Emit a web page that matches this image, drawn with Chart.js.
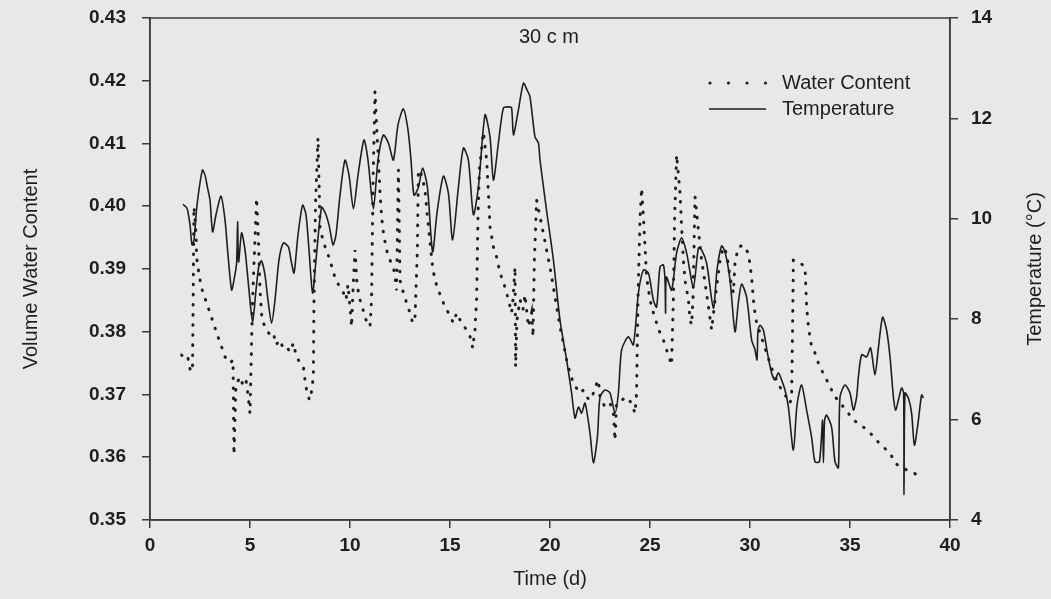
<!DOCTYPE html>
<html lang="en">
<head>
<meta charset="UTF-8">
<title>30 cm - Volume Water Content and Temperature</title>
<script src="https://cdn.jsdelivr.net/npm/chart.js@4"></script>
<style>
  html, body { margin: 0; padding: 0; background: #e8e8e6; }
  #wrap { width: 1051px; height: 599px; }
</style>
</head>
<body>
<div id="wrap"><canvas id="chart" width="1051" height="599"></canvas></div>
<script>
// [time (d), volume water content]
const waterContent = [
  [1.58,0.3763],[1.75,0.3755],[1.90,0.3758],[2.03,0.3736],[2.13,0.3744],[2.20,0.3999],[2.30,0.3957],[2.33,0.3919],
  [2.47,0.3887],[2.63,0.3864],[2.83,0.3846],[3.0,0.3830],[3.17,0.3814],[3.33,0.3798],[3.58,0.3776],[3.75,0.3760],
  [4.0,0.3750],[4.15,0.3755],[4.2,0.3604],[4.3,0.3715],[4.5,0.3728],[4.65,0.3715],[4.8,0.3723],[4.9,0.3699],
  [5.0,0.3670],[5.13,0.3851],[5.33,0.4013],[5.42,0.3946],[5.5,0.3866],[5.6,0.3819],[5.83,0.3803],[6.0,0.3795],
  [6.17,0.3798],[6.3,0.3779],[6.5,0.3787],[6.65,0.3774],[6.83,0.3776],[7.0,0.3768],[7.17,0.3782],[7.3,0.3763],
  [7.5,0.3750],[7.67,0.3744],[7.75,0.3723],[7.83,0.3707],[7.97,0.3691],[8.05,0.3699],[8.17,0.3728],[8.2,0.3851],
  [8.28,0.4005],[8.4,0.4109],[8.5,0.3967],[8.67,0.3942],[8.83,0.3930],[9.0,0.3914],[9.17,0.3894],[9.33,0.3880],
  [9.5,0.3871],[9.67,0.3862],[9.8,0.3851],[9.9,0.3875],[10.08,0.3808],[10.15,0.3866],[10.25,0.3930],[10.35,0.3875],
  [10.5,0.3851],[10.65,0.3835],[10.8,0.3819],[11.0,0.3808],[11.08,0.3851],[11.15,0.4031],[11.25,0.4183],[11.33,0.4127],
  [11.42,0.4074],[11.5,0.4021],[11.58,0.3983],[11.67,0.3957],[11.83,0.3930],[12.0,0.3914],[12.17,0.3903],[12.25,0.3887],
  [12.33,0.3866],[12.42,0.4058],[12.5,0.3882],[12.67,0.3862],[12.83,0.3846],[13.0,0.3830],[13.13,0.3814],[13.25,0.3822],
  [13.37,0.3930],[13.42,0.4058],[13.58,0.4050],[13.75,0.4026],[13.87,0.3983],[14.0,0.3943],[14.13,0.3903],[14.25,0.3882],
  [14.42,0.3866],[14.67,0.3846],[14.92,0.3830],[15.17,0.3814],[15.33,0.3830],[15.58,0.3814],[15.83,0.3803],[16.08,0.3787],
  [16.13,0.3774],[16.25,0.3803],[16.33,0.3851],[16.4,0.3983],[16.47,0.4058],[16.67,0.4118],[16.83,0.4074],[16.92,0.4021],
  [17.0,0.3967],[17.17,0.3935],[17.33,0.3919],[17.5,0.3894],[17.75,0.3871],[17.92,0.3851],[18.08,0.3830],[18.15,0.3851],
  [18.25,0.3903],[18.28,0.3744],[18.35,0.3819],[18.5,0.3851],[18.65,0.3835],[18.75,0.3859],[18.92,0.3808],[19.08,0.3830],
  [19.15,0.3792],[19.22,0.3914],[19.33,0.4010],[19.5,0.3983],[19.67,0.3957],[19.83,0.3930],[20.0,0.3903],[20.17,0.3871],
  [20.33,0.3840],[20.5,0.3808],[20.67,0.3782],[20.83,0.3755],[21.0,0.3734],[21.17,0.3718],[21.33,0.3710],[21.5,0.3702],
  [21.67,0.3707],[21.83,0.3696],[22.0,0.3691],[22.17,0.3702],[22.3,0.3715],[22.42,0.3723],[22.5,0.3696],[22.75,0.3680],
  [23.0,0.3686],[23.17,0.3670],[23.25,0.3627],[23.33,0.3686],[23.58,0.3691],[23.83,0.3696],[24.08,0.3686],[24.25,0.3670],
  [24.33,0.3702],[24.4,0.3851],[24.5,0.3978],[24.58,0.4029],[24.67,0.3983],[24.75,0.3935],[24.83,0.3887],[25.0,0.3851],
  [25.17,0.3830],[25.33,0.3814],[25.5,0.3798],[25.67,0.3787],[25.83,0.3771],[26.0,0.3755],[26.08,0.3747],[26.17,0.3851],
  [26.23,0.3978],[26.33,0.4082],[26.5,0.4021],[26.58,0.3967],[26.67,0.3914],[26.75,0.3882],[26.92,0.3851],[27.0,0.3819],
  [27.08,0.3811],[27.15,0.3851],[27.2,0.3930],[27.25,0.4015],[27.42,0.3962],[27.58,0.3914],[27.75,0.3878],[27.92,0.3840],
  [28.08,0.3803],[28.33,0.3871],[28.5,0.3914],[28.67,0.3935],[28.83,0.3925],[29.0,0.3887],[29.17,0.3862],[29.25,0.3910],
  [29.42,0.3935],[29.67,0.3938],[29.92,0.3925],[30.08,0.3887],[30.2,0.3840],[30.33,0.3814],[30.5,0.3798],[30.67,0.3782],
  [30.83,0.3766],[31.0,0.3750],[31.17,0.3734],[31.33,0.3723],[31.5,0.3712],[31.67,0.3702],[31.83,0.3696],[32.0,0.3686],
  [32.08,0.3696],[32.13,0.3803],[32.17,0.3914],[32.25,0.3914],[32.5,0.3910],[32.75,0.3903],[32.83,0.3840],[32.92,0.3808],
  [33.08,0.3776],[33.25,0.3766],[33.42,0.3750],[33.58,0.3739],[33.75,0.3728],[33.92,0.3718],[34.08,0.3707],[34.25,0.3696],
  [34.42,0.3691],[34.67,0.3680],[34.92,0.3670],[35.17,0.3659],[35.33,0.3656],[35.67,0.3648],[36.0,0.3639],[36.33,0.3627],
  [36.67,0.3616],[37.0,0.3607],[37.25,0.3591],[37.5,0.3585],[37.83,0.3580],[38.17,0.3575],[38.58,0.3569]
];

// [time (d), temperature (°C)]
const temperature = [
  [1.65,10.29],[1.85,10.21],[2.0,9.88],[2.1,9.48],[2.2,9.58],[2.35,10.27],[2.62,10.97],[2.75,10.87],[2.87,10.63],
  [3.0,10.37],[3.13,9.74],[3.3,10.08],[3.55,10.45],[3.75,9.98],[3.9,9.28],[4.08,8.58],[4.2,8.78],[4.33,9.12],
  [4.38,9.94],[4.43,9.14],[4.58,9.72],[4.75,9.38],[4.95,8.58],[5.13,7.94],[5.3,8.58],[5.45,9.08],[5.58,9.16],
  [5.75,8.88],[5.9,8.38],[6.08,7.92],[6.25,8.38],[6.45,9.18],[6.67,9.52],[6.92,9.44],[7.05,9.18],[7.2,8.92],
  [7.4,9.68],[7.63,10.27],[7.8,10.08],[7.95,9.38],[8.13,8.52],[8.3,9.18],[8.58,10.23],[8.8,10.08],[8.97,9.84],
  [9.15,9.48],[9.3,9.68],[9.5,10.47],[9.75,11.17],[9.95,10.87],[10.17,10.2],[10.4,10.87],[10.7,11.57],[10.9,11.17],
  [11.17,10.2],[11.4,11.17],[11.67,11.67],[11.92,11.51],[12.17,11.17],[12.4,11.87],[12.67,12.19],[12.9,11.77],
  [13.05,11.17],[13.2,10.47],[13.42,10.63],[13.63,11.01],[13.87,10.63],[14.13,9.34],[14.35,10.12],[14.67,10.85],
  [14.92,10.51],[15.13,9.58],[15.42,10.63],[15.67,11.41],[15.92,11.17],[16.17,10.08],[16.42,10.63],[16.75,12.07],
  [17.0,11.63],[17.17,10.77],[17.42,11.51],[17.67,12.21],[17.92,12.23],[18.08,12.21],[18.17,11.67],[18.42,12.17],
  [18.67,12.7],[18.85,12.57],[19.0,12.43],[19.25,11.63],[19.42,11.51],[19.5,11.17],[19.83,10.16],[20.17,9.18],
  [20.5,7.98],[20.83,7.19],[21.08,6.53],[21.25,6.03],[21.42,6.25],[21.58,6.13],[21.75,6.33],[22.0,5.73],
  [22.17,5.14],[22.37,5.65],[22.5,6.45],[22.75,6.59],[23.0,6.53],[23.25,6.13],[23.42,6.53],[23.58,7.39],
  [23.92,7.65],[24.17,7.49],[24.42,8.52],[24.67,8.98],[24.92,8.92],[25.17,8.38],[25.33,8.24],[25.5,9.04],
  [25.67,9.08],[25.75,8.78],[25.78,8.12],[25.82,8.84],[26.08,8.58],[26.33,9.32],[26.58,9.62],[26.83,9.32],
  [27.17,8.64],[27.42,9.42],[27.58,9.38],[27.83,9.12],[28.17,8.22],[28.35,8.98],[28.58,9.46],[28.75,9.34],
  [29.0,8.78],[29.25,7.75],[29.42,8.34],[29.58,8.7],[29.83,8.44],[30.08,7.59],[30.25,7.39],[30.35,7.19],
  [30.4,7.78],[30.5,7.88],[30.67,7.78],[30.87,7.33],[31.08,6.93],[31.25,6.79],[31.42,6.93],[31.58,6.79],
  [31.75,6.59],[31.92,6.25],[32.17,5.39],[32.35,6.29],[32.58,6.69],[32.83,6.19],[33.08,5.65],[33.25,5.16],
  [33.47,5.16],[33.63,5.99],[33.67,5.14],[33.73,5.99],[33.83,6.09],[34.08,5.85],[34.25,5.16],[34.42,5.04],
  [34.5,6.45],[34.75,6.69],[35.0,6.53],[35.17,6.19],[35.33,6.45],[35.42,6.85],[35.58,7.29],[35.83,7.25],
  [36.03,7.43],[36.25,6.89],[36.42,7.43],[36.63,8.04],[36.83,7.78],[37.0,7.25],[37.17,6.45],[37.28,6.19],
  [37.42,6.39],[37.58,6.63],[37.68,6.53],[37.7,4.5],[37.75,6.53],[37.92,6.43],[38.08,6.13],[38.22,5.49],
  [38.42,5.99],[38.58,6.49],[38.67,6.43]
];

const xTicks = [0, 5, 10, 15, 20, 25, 30, 35, 40];
const wcTicks = [0.35, 0.36, 0.37, 0.38, 0.39, 0.40, 0.41, 0.42, 0.43];
const tempTicks = [4, 6, 8, 10, 12, 14];

const ink = '#1e1e1e';
const axisInk = '#3a3a3a';
const fontFamily = '"Liberation Sans", Arial, Helvetica, sans-serif';

const toXY = arr => arr.map(p => ({ x: p[0], y: p[1] }));

// frame, title, legend and right-hand axis title
const framePlugin = {
  id: 'framePlugin',
  beforeDraw(chart) {
    const ctx = chart.ctx;
    ctx.save();
    ctx.fillStyle = '#e8e8e6';
    ctx.fillRect(0, 0, chart.width, chart.height);
    ctx.restore();
  },
  afterDraw(chart) {
    const { ctx, chartArea: a } = chart;
    ctx.save();
    ctx.strokeStyle = axisInk;
    ctx.lineWidth = 1.5;
    ctx.strokeRect(a.left, a.top, a.right - a.left, a.bottom - a.top);

    ctx.fillStyle = ink;
    ctx.font = '20px ' + fontFamily;
    ctx.textBaseline = 'middle';
    ctx.textAlign = 'center';
    ctx.fillText('30 c m', a.left + 399, a.top + 19);

    // right axis title, read bottom to top like the left one
    ctx.save();
    ctx.translate(1035, (a.top + a.bottom) / 2);
    ctx.rotate(-Math.PI / 2);
    ctx.fillText('Temperature (°C)', 0, 0);
    ctx.restore();

    // legend
    const lx = a.left + 560, ly1 = a.top + 65, ly2 = a.top + 91;
    ctx.textAlign = 'left';
    for (let i = 0; i < 4; i++) {
      ctx.beginPath();
      ctx.arc(lx + i * 18.5, ly1, 1.6, 0, Math.PI * 2);
      ctx.fill();
    }
    ctx.fillText('Water Content', lx + 72, ly1);
    ctx.beginPath();
    ctx.strokeStyle = ink;
    ctx.lineWidth = 1.4;
    ctx.moveTo(lx - 1, ly2);
    ctx.lineTo(lx + 56, ly2);
    ctx.stroke();
    ctx.fillText('Temperature', lx + 72, ly2);
    ctx.restore();
  }
};

const tickFont = { family: fontFamily, size: 19, weight: 'bold' };
const titleFont = { family: fontFamily, size: 20 };
const gridOpts = { drawOnChartArea: false, drawTicks: true, tickLength: 8, color: axisInk, lineWidth: 1.5 };
const borderOpts = { display: true, color: axisInk, width: 1.5 };

// fixed axis sizes so the plot box sits where the original one does
const fitY = w => s => { s.width = w; s.paddingTop = 0; s.paddingBottom = 0; };

new Chart(document.getElementById('chart'), {
  type: 'scatter',
  data: {
    datasets: [
      {
        label: 'Water Content',
        data: toXY(waterContent),
        yAxisID: 'yWC',
        showLine: true,
        borderColor: ink,
        borderWidth: 3,
        borderDash: [0.6, 9.5],
        borderCapStyle: 'round',
        pointRadius: 0,
        tension: 0
      },
      {
        label: 'Temperature',
        data: toXY(temperature),
        yAxisID: 'yT',
        showLine: true,
        borderColor: ink,
        borderWidth: 1.6,
        pointRadius: 0,
        tension: 0.25
      }
    ]
  },
  options: {
    responsive: false,
    animation: false,
    layout: { padding: { top: 18, left: 0, right: 0, bottom: 0 } },
    plugins: { legend: { display: false }, tooltip: { enabled: false } },
    scales: {
      x: {
        type: 'linear',
        min: 0, max: 40,
        afterBuildTicks: s => { s.ticks = xTicks.map(v => ({ value: v })); },
        afterFit: s => { s.height = 79; },
        grid: gridOpts,
        border: borderOpts,
        ticks: { color: ink, font: tickFont, padding: 6 },
        title: { display: true, text: 'Time (d)', color: ink, font: titleFont, padding: { bottom: 8 } }
      },
      yWC: {
        type: 'linear',
        position: 'left',
        min: 0.35, max: 0.43,
        afterBuildTicks: s => { s.ticks = wcTicks.map(v => ({ value: v })); },
        afterFit: fitY(150),
        grid: gridOpts,
        border: borderOpts,
        ticks: { color: ink, font: tickFont, padding: 16, callback: v => v.toFixed(2) },
        title: { display: true, text: 'Volume Water Content', color: ink, font: titleFont, padding: { top: 19 } }
      },
      yT: {
        type: 'linear',
        position: 'right',
        min: 4, max: 14,
        afterBuildTicks: s => { s.ticks = tempTicks.map(v => ({ value: v })); },
        afterFit: fitY(101),
        grid: gridOpts,
        border: borderOpts,
        ticks: { color: ink, font: tickFont, padding: 13 },
        title: { display: false }
      }
    }
  },
  plugins: [framePlugin]
});
</script>
</body>
</html>
